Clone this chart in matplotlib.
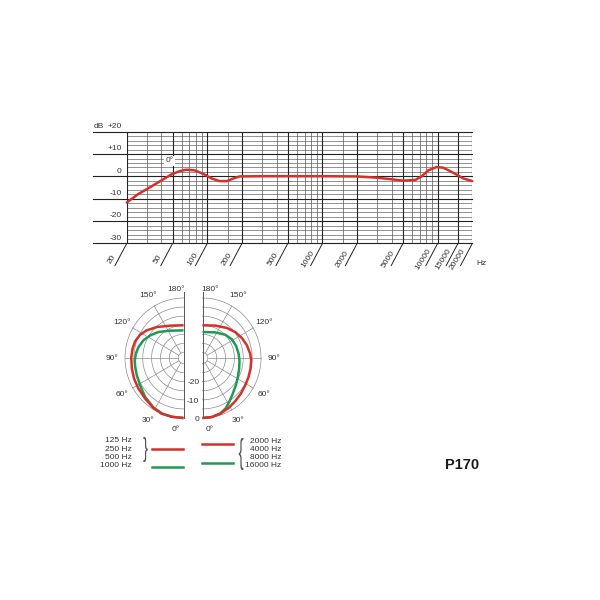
import numpy as np
import matplotlib
matplotlib.use("Agg")
import matplotlib.pyplot as plt
from matplotlib.lines import Line2D
from matplotlib.patches import PathPatch
from matplotlib.textpath import TextPath
from matplotlib.font_manager import FontProperties
from matplotlib.transforms import Affine2D, blended_transform_factory

plt.rcParams["font.family"] = ["Liberation Sans", "DejaVu Sans"]

# frequency response at 0 deg
freq = [20, 25, 32, 40, 49, 58, 66, 78, 92, 109, 128, 148, 169, 191, 300, 500, 1000,
        2000, 3000, 4000, 5000, 6400, 7300, 8300, 9800, 11200, 13700, 16700, 20000]
level = [-11.7, -8.0, -4.8, -1.8, 0.9, 2.4, 3.0, 2.7, 1.2, -0.9, -2.1, -2.1, -0.9, 0.0, 0.1, 0.1, 0.1,
         0.0, -0.6, -1.3, -1.9, -1.6, 0.1, 2.7, 4.2, 3.9, 1.6, -0.9, -2.1]

major_f = [20, 50, 100, 200, 500, 1000, 2000, 5000, 10000, 15000, 20000]
minor_f = [30, 40, 60, 70, 80, 90, 150, 300, 400, 600, 700, 800, 900, 1500,
           3000, 4000, 6000, 7000, 8000, 9000]
db_major = [20, 10, 0, -10, -20, -30]
db_labels = ["+20", "+10", "0", "-10", "-20", "-30"]

# polar patterns (angle in degrees, level in dB)
low_red_ang = [0, 11.5, 21.8, 31.6, 44, 56.4, 67.8, 78.6, 90, 100.1, 108.6, 117.7, 126.3, 138.6, 157.2, 180]
low_red_db = [0, 0, 0, -0.7, -1.9, -2.5, -2.9, -3.3, -3.5, -3.8, -4.2, -5.4, -7.3, -10.3, -13.7, -15.0]
low_green_ang = [0, 11.5, 21.8, 31.6, 45.2, 58.4, 70.1, 79.7, 87.3, 95, 103.4, 113.3, 123.6, 135.4, 153.5, 180]
low_green_db = [0, 0, -0.1, -0.9, -2.5, -4.3, -5.0, -5.3, -5.5, -6.0, -6.9, -8.4, -10.5, -12.9, -16.2, -17.8]
high_red_ang = [0, 9.2, 18.1, 28.1, 37.7, 47.8, 58, 68.1, 77.8, 87.3, 95, 105.6, 116.3, 127.8, 140.2, 158.1, 180]
high_red_db = [0, -0.1, -0.8, -1.8, -2.9, -3.8, -4.6, -5.0, -5.3, -5.5, -6.0, -7.0, -8.2, -9.7, -11.5, -13.8, -15.0]
high_green_ang = [0, 9.2, 18.1, 25.6, 32.6, 41.1, 51.3, 62.4, 74.2, 86.5, 96.7, 109.1, 121.8, 135, 153.1, 180]
high_green_db = [0, -0.1, -0.8, -2.5, -4.7, -7.0, -8.9, -10.5, -11.5, -12.1, -12.5, -12.9, -13.5, -14.9, -17.2, -18.7]

ring_db = [-30, -25, -20, -15, -10, -5, 0]
spoke_ang = [30, 60, 90, 120, 150]
scale_db = [-20, -10, 0]

legend_low = ["125 Hz", "250 Hz", "500 Hz", "1000 Hz"]
legend_high = ["2000 Hz", "4000 Hz", "8000 Hz", "16000 Hz"]

RED = "#d6302c"
GREEN = "#1e9a52"
GRID = "#8c8c8c"
TXT = "#333333"

fig = plt.figure(figsize=(6, 6), dpi=100)

# ---------------- frequency response ----------------
ax = fig.add_axes([126.7 / 600, 1 - 243.5 / 600, 345.6 / 600, 111.8 / 600])
ax.set_xscale("log")
ax.set_xlim(20, 20000)
ax.set_ylim(-30, 20)
ax.axis("off")

for d in range(-30, 21, 2):
    if d % 10:
        ax.axhline(d, color="#555555", lw=0.45, zorder=1)
trans = blended_transform_factory(ax.transAxes, ax.transData)
for d in db_major:
    ax.plot([-0.0975, 1], [d, d], transform=trans, color="#222222", lw=0.8, clip_on=False, zorder=2)
for f in minor_f:
    ax.axvline(f, color="#555555", lw=0.5, zorder=1)
for f in major_f:
    ax.axvline(f, color="#222222", lw=0.8, zorder=2)
    ax.annotate("", xy=(f, 0), xycoords=("data", "axes fraction"), xytext=(-8.5, -16),
                textcoords="offset points",
                arrowprops=dict(arrowstyle="-", lw=0.7, color="#222222", shrinkA=0, shrinkB=0))
    ax.annotate(str(f), xy=(f, 0), xycoords=("data", "axes fraction"), xytext=(-10.5, -11.5),
                textcoords="offset points", rotation=58, ha="center", va="center",
                fontsize=6, color=TXT)

for d, lab in zip(db_major, db_labels):
    ax.annotate(lab, xy=(0, d), xycoords=("axes fraction", "data"), xytext=(-3.6, 1.2),
                textcoords="offset points", ha="right", va="bottom", fontsize=6, color=TXT)
ax.annotate("dB", xy=(0, 20), xycoords=("axes fraction", "data"), xytext=(-24, 1.2),
            textcoords="offset points", ha="left", va="bottom", fontsize=6, color=TXT)
ax.text(1.013, -0.183, "Hz", transform=ax.transAxes, fontsize=6, ha="left", va="center", color=TXT)
ax.text(47, 7, "0°", fontsize=6, ha="center", va="center", color=TXT, zorder=3,
        bbox=dict(fc="white", ec="none", pad=1.2))

ax.plot(freq, level, color=RED, lw=1.8, solid_capstyle="round", solid_joinstyle="round",
        clip_on=False, zorder=5)

# ---------------- polar patterns ----------------
pax = fig.add_axes([90 / 600, 1 - 440 / 600, 206 / 600, 158 / 600])
pax.set_xlim(-103 / 58.5, 103 / 58.5)
pax.set_ylim(-82 / 60, 76 / 60)
pax.axis("off")


def rad(db):
    return 1 + np.asarray(db, dtype=float) / 33.0


def half(cx, side):
    th = np.radians(np.linspace(0, 180, 181))
    for d in ring_db:
        r = rad(d)
        pax.plot(cx + side * r * np.sin(th), -r * np.cos(th), color=GRID, lw=0.5, zorder=1)
    r0 = rad(-30)
    for a in spoke_ang:
        t = np.radians(a)
        pax.plot([cx + side * r0 * np.sin(t), cx + side * np.sin(t)],
                 [-r0 * np.cos(t), -np.cos(t)], color=GRID, lw=0.5, zorder=1)
        pax.text(cx + side * 1.22 * np.sin(t), -1.2 * np.cos(t), f"{a}°", ha="center",
                 va="center", fontsize=6, color=TXT)
    pax.plot([cx, cx], [-1.0, 1.1], color="#555555", lw=0.7, zorder=2)
    pax.text(cx + side * 0.13, 1.14, "180°", ha="center", va="center", fontsize=6, color=TXT)
    pax.text(cx + side * 0.13, -1.2, "0°", ha="center", va="center", fontsize=6, color=TXT)


def pattern(cx, side, ang, db, color, z):
    t = np.radians(ang)
    r = rad(db)
    pax.plot(cx + side * r * np.sin(t), -r * np.cos(t), color=color, lw=1.8,
             solid_capstyle="butt", solid_joinstyle="round", zorder=z)


cl, cr = -9.5 / 58.5, 9.5 / 58.5
half(cl, -1)
half(cr, 1)
pattern(cl, -1, low_green_ang, low_green_db, GREEN, 3)
pattern(cl, -1, low_red_ang, low_red_db, RED, 4)
pattern(cr, 1, high_green_ang, high_green_db, GREEN, 3)
pattern(cr, 1, high_red_ang, high_red_db, RED, 4)
for d in scale_db:
    pax.text(cr - 0.055, -rad(d) - 0.02, str(d), ha="right", va="center", fontsize=6, color=TXT)

# ---------------- legend ----------------
for i, lab in enumerate(legend_low):
    fig.text(131.7 / 600, 1 - (441 + 8.2 * i) / 600, lab, ha="right", va="center",
             fontsize=6, color=TXT)
for i, lab in enumerate(legend_high):
    fig.text(281.7 / 600, 1 - (441.3 + 8.2 * i) / 600, lab, ha="right", va="center",
             fontsize=6, color=TXT)


def brace(char, x0, x1, y0, y1):
    # glyph stretched to the box given in pixels (top-left origin)
    tp = TextPath((0, 0), char, size=10, prop=FontProperties(family="Liberation Sans"))
    ext = tp.get_extents()
    tr = (Affine2D().translate(-ext.x0, -ext.y0)
          .scale((x1 - x0) / ext.width / 100, (y1 - y0) / ext.height / 100)
          .translate(x0 / 100, (600 - y1) / 100) + fig.dpi_scale_trans)
    fig.add_artist(PathPatch(tp, transform=tr, fc="#555555", ec="none"))


brace("}", 143.3, 147.8, 437, 462)
brace("{", 238.8, 243.3, 438, 470)

fig.add_artist(Line2D([151.7 / 600, 183.3 / 600], [1 - 449 / 600] * 2, color=RED, lw=1.8))
fig.add_artist(Line2D([151.7 / 600, 183.3 / 600], [1 - 466.7 / 600] * 2, color=GREEN, lw=1.8))
fig.add_artist(Line2D([201.7 / 600, 233.3 / 600], [1 - 444.3 / 600] * 2, color=RED, lw=1.8))
fig.add_artist(Line2D([201.7 / 600, 233.3 / 600], [1 - 462.7 / 600] * 2, color=GREEN, lw=1.8))

fig.text(462 / 600, 1 - 465 / 600, "P170", ha="center", va="center", fontsize=10.5,
         fontweight="bold", color="#1a1a1a")

fig.savefig("out.png", dpi=100, facecolor="white")
